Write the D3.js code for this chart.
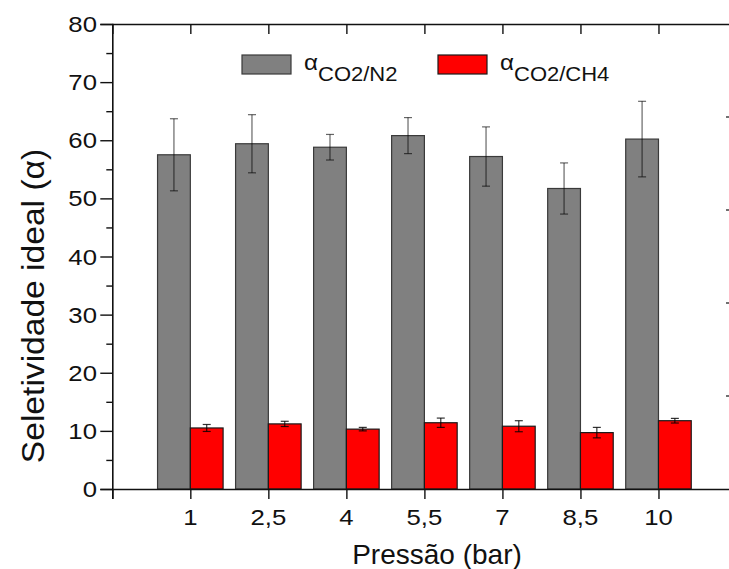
<!DOCTYPE html>
<html>
<head>
<meta charset="utf-8">
<script src="https://cdn.jsdelivr.net/npm/d3@7"></script>
<style>
  html, body { margin: 0; padding: 0; background: #fff; }
  svg { display: block; font-family: "Liberation Sans", Arial, sans-serif; }
</style>
</head>
<body>
<svg id="chart" width="729" height="569"></svg>
<script>
// Pressure levels (bar) and ideal selectivities with standard deviations
const pressures = ["1", "2,5", "4", "5,5", "7", "8,5", "10"];
const selCO2N2 = [57.5, 59.4, 58.8, 60.8, 57.2, 51.7, 60.2];
const errCO2N2 = [6.2, 5.0, 2.2, 3.1, 5.1, 4.4, 6.5];
const selCO2CH4 = [10.5, 11.2, 10.3, 11.4, 10.8, 9.7, 11.75];
const errCO2CH4 = [0.6, 0.45, 0.3, 0.8, 0.95, 0.9, 0.4];
const yTicks = [0, 10, 20, 30, 40, 50, 60, 70, 80];
const yMinorTicks = [5, 15, 25, 35, 45, 55, 65, 75];
const rightTicks = [16, 32, 48, 64];

const svg = d3.select("#chart");
const ink = "#111";

const x = d3.scaleLinear().domain([0, 8]).range([112.3, 736.5]);
const y = d3.scaleLinear().domain([0, 80]).range([489, 24]);
const barW = 0.42; // bar width in category units

const series = [
  { vals: selCO2N2, errs: errCO2N2, fill: "#808080", stroke: "#3a3a3a", off: -barW, errColor: "rgba(0,0,0,0.6)" },
  { vals: selCO2CH4, errs: errCO2CH4, fill: "#ff0000", stroke: "#1a1a1a", off: 0, errColor: "rgba(0,0,0,0.8)" }
];

// Bars
series.forEach(s => {
  svg.append("g").selectAll("rect")
    .data(s.vals)
    .join("rect")
    .attr("x", (d, i) => x(i + 1 + s.off))
    .attr("y", d => y(d))
    .attr("width", x(barW) - x(0))
    .attr("height", d => y(0) - y(d))
    .attr("fill", s.fill)
    .attr("stroke", s.stroke)
    .attr("stroke-width", 1.2);
});

// Error bars
series.forEach(s => {
  const g = svg.append("g").attr("stroke", s.errColor).attr("stroke-width", 1.2);
  s.vals.forEach((v, i) => {
    const cx = x(i + 1 + s.off + barW / 2);
    const hi = y(v + s.errs[i]), lo = y(v - s.errs[i]);
    g.append("line").attr("x1", cx).attr("x2", cx).attr("y1", hi).attr("y2", lo);
    g.append("line").attr("x1", cx - 4).attr("x2", cx + 4).attr("y1", hi).attr("y2", hi);
    g.append("line").attr("x1", cx - 4).attr("x2", cx + 4).attr("y1", lo).attr("y2", lo);
  });
});

// Left axis: major and minor ticks
svg.append("g").attr("transform", `translate(${x(0)},0)`)
  .call(d3.axisLeft(y).tickValues(yTicks).tickSize(12).tickFormat(""));
svg.append("g").attr("transform", `translate(${x(0)},0)`)
  .call(d3.axisLeft(y).tickValues(yMinorTicks).tickSize(6).tickFormat(""))
  .select(".domain").remove();

// Bottom axis
svg.append("g").attr("transform", `translate(0,${y(0)})`)
  .call(d3.axisBottom(x).tickValues(d3.range(0, 8)).tickSize(10).tickFormat(""));

// Top axis with inward ticks
svg.append("g").attr("transform", `translate(0,${y(80)})`)
  .call(d3.axisBottom(x).tickValues(d3.range(1, 8)).tickSize(10).tickFormat(""));

svg.selectAll(".tick line").attr("stroke", ink).attr("stroke-width", 1.4);
svg.selectAll("path.domain").attr("stroke", ink).attr("stroke-width", 1.6);

// Right axis ticks visible at the edge
svg.append("g").selectAll("line")
  .data(rightTicks)
  .join("line")
  .attr("x1", 726).attr("x2", 729)
  .attr("y1", d => y(d)).attr("y2", d => y(d))
  .attr("stroke", ink).attr("stroke-width", 1.2);

// Tick labels
svg.append("g").selectAll("text")
  .data(yTicks)
  .join("text")
  .attr("transform", d => `translate(97,${y(d) + 8}) scale(1.12,1)`)
  .attr("text-anchor", "end")
  .attr("font-size", 23)
  .attr("fill", ink)
  .text(d => d);

svg.append("g").selectAll("text")
  .data(pressures)
  .join("text")
  .attr("transform", (d, i) => `translate(${x(i + 1)},525) scale(1.12,1)`)
  .attr("text-anchor", "middle")
  .attr("font-size", 23)
  .attr("fill", ink)
  .text(d => d);

// Axis titles
svg.append("text")
  .attr("x", 437).attr("y", 564)
  .attr("text-anchor", "middle")
  .attr("font-size", 28)
  .attr("fill", ink)
  .text("Pressão (bar)");

svg.append("text")
  .attr("transform", "translate(44,306) rotate(-90) scale(1.12,1.05)")
  .attr("text-anchor", "middle")
  .attr("font-size", 30)
  .attr("fill", ink)
  .text("Seletividade ideal (α)");

// Legend
const legendItems = [
  { sub: "CO2/N2", fill: "#808080", stroke: "#3a3a3a", x: 242 },
  { sub: "CO2/CH4", fill: "#ff0000", stroke: "#1a1a1a", x: 438 }
];
legendItems.forEach(item => {
  svg.append("rect")
    .attr("x", item.x).attr("y", 55)
    .attr("width", 49).attr("height", 19)
    .attr("fill", item.fill)
    .attr("stroke", item.stroke)
    .attr("stroke-width", 1.2);
  const t = svg.append("text")
    .attr("transform", `translate(${item.x + 62},70) scale(1.1,1)`)
    .attr("font-size", 22)
    .attr("fill", ink);
  t.append("tspan").text("α");
  t.append("tspan").attr("dy", 11).attr("font-size", 20).text(item.sub);
});
</script>
</body>
</html>
